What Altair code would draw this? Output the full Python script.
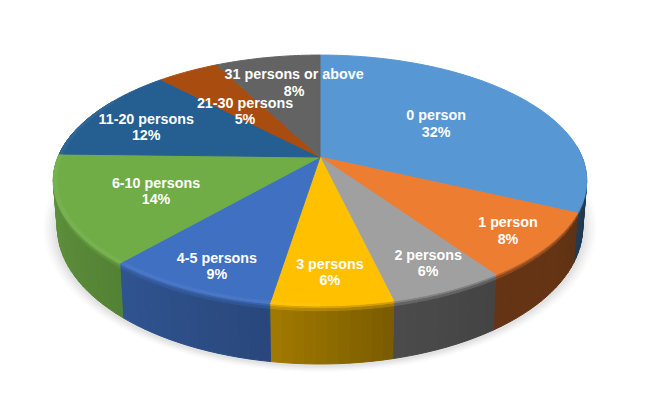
import math
import numpy as np
import altair as alt

# --- data ---
categories = ["0 person", "1 person", "2 persons", "3 persons", "4-5 persons",
              "6-10 persons", "11-20 persons", "21-30 persons", "31 persons or above"]
shares = [32, 8.4, 5.9, 6.2, 8.9, 14, 12.5, 4.5, 7.6]      # slice sizes as drawn
printed = ["32%", "8%", "6%", "6%", "9%", "14%", "12%", "5%", "8%"]
colors = ["#5797d3", "#ed7d31", "#a0a0a0", "#ffc000", "#4070c2",
          "#70ad47", "#255e91", "#a94c10", "#636363"]
label_radius = [.548, .846, .837, .813, .846, .654, .739, .505, .70]
label_turn = [.8, .1, -1.1, -.1, -1.6, -1, -4, -2.1, 4.5]

# --- view of the disc ---
CX, CY, A, B, K = 320, 157, 262, 121, .187


def top(r, deg):
    t = math.radians(deg)
    u, v = r * math.sin(t), -r * math.cos(t)
    d = 1 - K * v
    return CX + A * u / d, CY + B * v / d


def lower(p, t):
    x, y = p
    return CX + (x - CX) * (1 - .015 * t), y + (58 - (304 - y) * .09) * t


def rgb(c):
    return [int(c[i:i + 2], 16) for i in (1, 3, 5)]


def mix(a, b, f):
    return "#%02x%02x%02x" % tuple(round(x + (y - x) * f) for x, y in zip(a, b))


def feature(points, fill):
    pts = [[round(x, 2), round(y, 2)] for x, y in points]
    pts.append(pts[0])
    return {"type": "Feature", "properties": {"fill": fill},
            "geometry": {"type": "Polygon", "coordinates": [pts]}}


def shade(deg):
    return float(np.interp(deg, [90, 125, 145, 166, 188, 221, 250, 280],
                           [.33, .42, .42, .47, .63, .75, .82, .85]))


total = sum(shares)
edges = [0]
for s in shares:
    edges.append(edges[-1] + 360 * s / total)

features = []

# soft shadow under the disc
rim = [top(1, d) for d in range(0, 360, 3)]
for e, grey in [(.05, "#fbfbfb"), (.04, "#f6f6f6"), (.03, "#f0f0f0"), (.02, "#e9e9e9"), (.01, "#e2e2e2")]:
    ring = [lower(p, 1) for p in rim]
    features.append(feature([(CX + (x - CX) * (1 + e), 237 + (y - 237) * (1 + e) + 1) for x, y in ring], grey))

# side wall, split into strips so that it can shade along the rim
breaks = [0, .05, .1, 1]
for i, c in enumerate(colors):
    base = rgb(c)
    a0, a1 = max(edges[i], 85), min(edges[i + 1], 285)
    if a0 >= a1:
        continue
    n = max(1, int((a1 - a0) / 2))
    for j in range(n):
        d0, d1 = a0 + (a1 - a0) * j / n, a0 + (a1 - a0) * (j + 1) / n
        p0, p1 = top(1, d0), top(1, d1)
        side = [round(x * shade((d0 + d1) / 2)) for x in base]
        for (t0, t1), f in zip(zip(breaks, breaks[1:]), [.35, .7, 1]):
            features.append(feature([lower(p0, t0), lower(p1, t0), lower(p1, t1), lower(p0, t1)],
                                    mix(base, side, f)))

# top face
for i, c in enumerate(colors):
    a0, a1 = edges[i], edges[i + 1]
    n = max(2, int(a1 - a0))
    arc = [top(1, a0 + (a1 - a0) * j / n) for j in range(n + 1)]
    features.append(feature([(CX, CY)] + arc, c))

# lit edge on the left part of the rim
for i, c in enumerate(colors):
    a0, a1 = max(edges[i], 180), min(edges[i + 1], 300)
    if a0 >= a1:
        continue
    n = max(1, int((a1 - a0) / 2))
    fill = mix(rgb(c), [255, 255, 255], .05)
    for j in range(n):
        d0, d1 = a0 + (a1 - a0) * j / n, a0 + (a1 - a0) * (j + 1) / n
        features.append(feature([top(.987, d0), top(.987, d1), top(1, d1), top(1, d0)], fill))

# labels
labels = []
for i, name in enumerate(categories):
    mid = (edges[i] + edges[i + 1]) / 2 + label_turn[i]
    x, y = top(label_radius[i], mid)
    labels.append({"lon": round(x, 1), "lat": round(y - 8, 1), "text": name + "\n" + printed[i]})

shapes = alt.Chart(alt.Data(values=features)).mark_geoshape(strokeWidth=1).encode(
    color=alt.Color("properties.fill:N", scale=None, legend=None),
    stroke=alt.Stroke("properties.fill:N", scale=None, legend=None),
).project(type="identity", scale=1, translate=[-8, -8])

texts = alt.Chart(alt.Data(values=labels)).mark_text(
    color="white", font="Liberation Sans", fontWeight="bold", fontSize=14.3,
    lineBreak="\n", lineHeight=16.5, align="center", baseline="middle",
).encode(
    longitude="lon:Q", latitude="lat:Q", text="text:N",
).project(type="identity", scale=1, translate=[-8, -8])

chart = alt.layer(shapes, texts).properties(
    width=640, height=390, padding=0, background="white"
).configure_view(stroke=None)

chart.save("out.html", embed_options={"renderer": "svg", "actions": False})
